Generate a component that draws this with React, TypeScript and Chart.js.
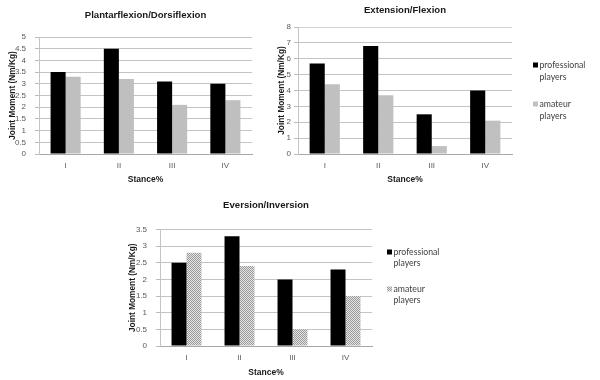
import React, { useEffect, useRef } from "react";
import { Chart, registerables } from "chart.js";
Chart.register(...registerables);

const categories = ["I", "II", "III", "IV"];
const seriesNames = ["professional players", "amateur players"];
const yAxisTitle = "Joint Moment (Nm/Kg)";
const xAxisTitle = "Stance%";

const plantarTitle = "Plantarflexion/Dorsiflexion";
const plantarPro = [3.5, 4.5, 3.1, 3.0];
const plantarAm = [3.3, 3.2, 2.1, 2.3];

const extTitle = "Extension/Flexion";
const extPro = [5.7, 6.8, 2.5, 4.0];
const extAm = [4.4, 3.7, 0.5, 2.1];

const evTitle = "Eversion/Inversion";
const evPro = [2.5, 3.3, 2.0, 2.3];
const evAm = [2.8, 2.4, 0.5, 1.5];

const SANS = "'Liberation Sans', Arial, sans-serif";

function makeChecker() {
  const c = document.createElement("canvas");
  c.width = 2;
  c.height = 2;
  const g = c.getContext("2d")!;
  g.fillStyle = "#e4e4e4";
  g.fillRect(0, 0, 2, 2);
  g.fillStyle = "#9a9a9a";
  g.fillRect(0, 0, 1, 1);
  g.fillRect(1, 1, 1, 1);
  return g.createPattern(c, "repeat");
}

const sideLegend = {
  id: "sideLegend",
  afterDraw(chart: any, _args: any, opts: any) {
    if (!opts || !opts.display) return;
    const ctx = chart.ctx;
    ctx.save();
    ctx.font = "8.7px Lato";
    ctx.textBaseline = "middle";
    ctx.textAlign = "left";
    chart.data.datasets.forEach((ds: any, i: number) => {
      const y0 = opts.y + i * opts.itemGap;
      ctx.fillStyle = ds.backgroundColor;
      ctx.fillRect(opts.x, y0 - 2.5, 5, 5);
      ctx.fillStyle = "#404040";
      String(ds.label)
        .split(" ")
        .forEach((w: string, j: number) => ctx.fillText(w, opts.x + 6.5, y0 + j * opts.lineGap));
    });
    ctx.restore();
  },
};

function makeConfig(p: any) {
  return {
    type: "bar",
    data: {
      labels: categories,
      datasets: [
        { label: seriesNames[0], data: p.pro, backgroundColor: "#000000", borderWidth: 0 },
        { label: seriesNames[1], data: p.am, backgroundColor: p.amColor, borderWidth: 0 },
      ],
    },
    plugins: [sideLegend],
    options: {
      responsive: false,
      animation: false,
      layout: { padding: { left: 0, right: p.padRight, top: 0, bottom: 0 } },
      datasets: { bar: { categoryPercentage: 0.565, barPercentage: 1 } },
      plugins: {
        legend: { display: false },
        tooltip: { enabled: false },
        title: {
          display: true,
          text: p.title,
          fullSize: false,
          color: "#1a1a1a",
          font: { family: SANS, size: 9.6, weight: "bold", lineHeight: 1.25 },
          padding: { top: p.titleTop, bottom: p.titleBottom },
        },
        sideLegend: p.legend
          ? { display: true, x: p.legend.x, y: p.legend.y, itemGap: p.legend.itemGap, lineGap: p.legend.lineGap }
          : { display: false },
      },
      scales: {
        x: {
          grid: { display: false, drawTicks: false },
          border: { display: true, color: "#a8a8a8" },
          ticks: { color: "#595959", font: { family: SANS, size: 8 }, padding: 7 },
          title: {
            display: true,
            text: xAxisTitle,
            color: "#1a1a1a",
            font: { family: SANS, size: 8.5, weight: "bold" },
            padding: { top: 0, bottom: p.xTitleBottom },
          },
          afterFit: (s: any) => {
            s.height = p.xHeight;
          },
        },
        y: {
          min: 0,
          max: p.max,
          ticks: {
            stepSize: p.step,
            autoSkip: false,
            padding: p.tickPad,
            color: "#595959",
            font: { family: SANS, size: 8 },
            callback: (v: any) => String(v),
          },
          grid: {
            color: (c: any) =>
              p.olive && c.tick && c.tick.value === p.max ? "#d8d8ae" : "#c4c4c4",
            tickLength: 4,
            tickColor: "#bcbcbc",
          },
          border: { display: true, color: "#c4c4c4" },
          title: {
            display: true,
            text: yAxisTitle,
            color: "#1a1a1a",
            font: { family: SANS, size: 8.3, weight: "bold" },
            padding: { top: p.yTitlePad, bottom: 0 },
          },
          afterFit: (s: any) => {
            s.width = p.yWidth;
          },
        },
      },
    },
  };
}

function ChartBox({ left, top, width, height, build }: any) {
  const ref = useRef<HTMLCanvasElement>(null);
  useEffect(() => {
    const chart = new Chart(ref.current as HTMLCanvasElement, build() as any);
    return () => chart.destroy();
  }, []);
  return (
    <canvas
      ref={ref}
      width={width}
      height={height}
      style={{ position: "absolute", left, top, width, height }}
    />
  );
}

export default function App() {
  return (
    <div
      style={{
        position: "absolute",
        left: 0,
        top: 0,
        width: 600,
        height: 380,
        background: "#ffffff",
        overflow: "hidden",
      }}
    >
      <ChartBox
        left={0}
        top={0}
        width={270}
        height={190}
        build={() =>
          makeConfig({
            title: plantarTitle,
            pro: plantarPro,
            am: plantarAm,
            amColor: "#bfbfbf",
            max: 5,
            step: 0.5,
            padRight: 18,
            titleTop: 9,
            titleBottom: 16,
            xHeight: 36,
            xTitleBottom: 5,
            yWidth: 39,
            tickPad: 9,
            yTitlePad: 8,
            olive: false,
          })
        }
      />
      <ChartBox
        left={271}
        top={0}
        width={329}
        height={190}
        build={() =>
          makeConfig({
            title: extTitle,
            pro: extPro,
            am: extAm,
            amColor: "#c0c0c0",
            max: 8,
            step: 1,
            padRight: 88,
            titleTop: 4,
            titleBottom: 11,
            xHeight: 36,
            xTitleBottom: 5,
            yWidth: 27,
            tickPad: 3,
            yTitlePad: 5.5,
            olive: true,
            legend: { x: 262, y: 65, itemGap: 39, lineGap: 12 },
          })
        }
      />
      <ChartBox
        left={120}
        top={190}
        width={480}
        height={190}
        build={() =>
          makeConfig({
            title: evTitle,
            pro: evPro,
            am: evAm,
            amColor: makeChecker(),
            max: 3.5,
            step: 0.5,
            padRight: 228,
            titleTop: 9,
            titleBottom: 18.5,
            xHeight: 34,
            xTitleBottom: 2,
            yWidth: 40,
            tickPad: 9,
            yTitlePad: 8,
            olive: false,
            legend: { x: 267, y: 62, itemGap: 37, lineGap: 11.5 },
          })
        }
      />
    </div>
  );
}
